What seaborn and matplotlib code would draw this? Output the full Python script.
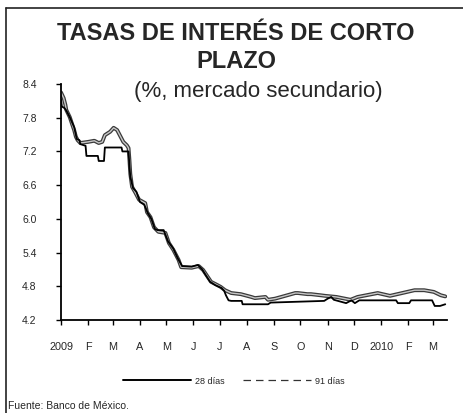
import matplotlib
matplotlib.use("Agg")
import matplotlib.pyplot as plt
import matplotlib.patheffects as pe
from matplotlib.lines import Line2D
import pandas as pd
import seaborn as sns

# Cetes 91 días (mercado secundario, %)
dates_91 = [
    "2009-01-01", "2009-01-04", "2009-01-06", "2009-01-07", "2009-01-11", "2009-01-14",
    "2009-01-16", "2009-01-18", "2009-01-20", "2009-01-23", "2009-02-01", "2009-02-08",
    "2009-02-13", "2009-02-17", "2009-02-20", "2009-02-26", "2009-03-02", "2009-03-06",
    "2009-03-09", "2009-03-13", "2009-03-17", "2009-03-19", "2009-03-20", "2009-03-21",
    "2009-03-23", "2009-03-27", "2009-03-31", "2009-04-07", "2009-04-09", "2009-04-13",
    "2009-04-17", "2009-04-22", "2009-04-30", "2009-05-04", "2009-05-09", "2009-05-15",
    "2009-05-18", "2009-05-30", "2009-06-07", "2009-06-12", "2009-06-18", "2009-06-21",
    "2009-06-26", "2009-07-02", "2009-07-07", "2009-07-14", "2009-07-25", "2009-08-06",
    "2009-08-10", "2009-08-22", "2009-08-25", "2009-09-02", "2009-09-09", "2009-09-25",
    "2009-09-28", "2009-10-09", "2009-10-13", "2009-10-24", "2009-10-29", "2009-11-11",
    "2009-11-27", "2009-12-05", "2009-12-28", "2010-01-11", "2010-01-25", "2010-02-08",
    "2010-02-19", "2010-03-02", "2010-03-10", "2010-03-15",
]
rate_91 = [
    8.25, 8.15, 8.03, 7.94, 7.81, 7.67,
    7.58, 7.46, 7.40, 7.35, 7.37, 7.39,
    7.35, 7.37, 7.49, 7.55, 7.62, 7.58,
    7.49, 7.37, 7.31, 7.26, 7.05, 6.80,
    6.57, 6.46, 6.34, 6.28, 6.12, 6.03,
    5.85, 5.77, 5.75, 5.57, 5.45, 5.27,
    5.14, 5.13, 5.16, 5.09, 4.95, 4.88,
    4.84, 4.79, 4.73, 4.68, 4.66, 4.61,
    4.59, 4.61, 4.56, 4.58, 4.61, 4.68,
    4.68, 4.66, 4.66, 4.64, 4.63, 4.61,
    4.56, 4.61, 4.68, 4.63, 4.68, 4.73,
    4.73, 4.70, 4.64, 4.62,
]

# Cetes 28 días (mercado secundario, %)
dates_28 = [
    "2009-01-01", "2009-01-02", "2009-01-05", "2009-01-07", "2009-01-11", "2009-01-16",
    "2009-01-18", "2009-01-19", "2009-01-22", "2009-01-23", "2009-01-29", "2009-01-30",
    "2009-02-12", "2009-02-13", "2009-02-19", "2009-02-20", "2009-03-11", "2009-03-12",
    "2009-03-19", "2009-03-20", "2009-03-21", "2009-03-24", "2009-03-28", "2009-04-01",
    "2009-04-06", "2009-04-10", "2009-04-14", "2009-04-18", "2009-04-21", "2009-04-28",
    "2009-05-03", "2009-05-09", "2009-05-14", "2009-05-19", "2009-05-30", "2009-06-06",
    "2009-06-11", "2009-06-15", "2009-06-20", "2009-06-26", "2009-07-03", "2009-07-06",
    "2009-07-08", "2009-07-11", "2009-07-14", "2009-07-26", "2009-07-27", "2009-08-25",
    "2009-08-28", "2009-10-28", "2009-11-01", "2009-11-05", "2009-11-08", "2009-11-22",
    "2009-11-28", "2009-12-02", "2009-12-07", "2010-01-18", "2010-01-20", "2010-02-02",
    "2010-02-04", "2010-02-28", "2010-03-03", "2010-03-09", "2010-03-15",
]
rate_28 = [
    8.12, 8.00, 7.97, 7.93, 7.81, 7.63,
    7.49, 7.42, 7.40, 7.33, 7.30, 7.12,
    7.12, 7.03, 7.03, 7.27, 7.27, 7.20,
    7.20, 6.95, 6.75, 6.55, 6.48, 6.30,
    6.25, 6.10, 6.00, 5.82, 5.80, 5.80,
    5.60, 5.47, 5.30, 5.16, 5.15, 5.18,
    5.10, 5.00, 4.88, 4.82, 4.77, 4.72,
    4.64, 4.55, 4.54, 4.54, 4.48, 4.48,
    4.51, 4.54, 4.58, 4.61, 4.56, 4.50,
    4.55, 4.50, 4.55, 4.55, 4.50, 4.50,
    4.55, 4.55, 4.45, 4.45, 4.48,
]

y_ticks = [4.2, 4.8, 5.4, 6.0, 6.6, 7.2, 7.8, 8.4]
month_labels = ["2009", "F", "M", "A", "M", "J", "J", "A", "S", "O", "N", "D", "2010", "F", "M"]

df91 = pd.DataFrame({"fecha": pd.to_datetime(dates_91), "tasa": rate_91})
df28 = pd.DataFrame({"fecha": pd.to_datetime(dates_28), "tasa": rate_28})

sns.set_style("white")
plt.rcParams["font.family"] = ["Liberation Sans", "DejaVu Sans"]

fig = plt.figure(figsize=(4.64, 4.13), dpi=100)
ax = fig.add_axes([61 / 464, 1 - 320 / 413, (447 - 61) / 464, (320 - 84) / 413])

# 91 días: trazo gris con borde oscuro
sns.lineplot(data=df91, x="fecha", y="tasa", ax=ax, color="#c8c8c8", lw=1.0,
             path_effects=[pe.Stroke(linewidth=2.8, foreground="#3a3a3a"), pe.Normal()])
# 28 días: línea negra
sns.lineplot(data=df28, x="fecha", y="tasa", ax=ax, color="black", lw=1.3)

ax.set_ylim(4.2, 8.4)
ax.set_yticks(y_ticks)
ax.set_yticklabels([f"{v:.1f}" for v in y_ticks], fontsize=7.5)
ax.set_xlim(pd.Timestamp("2009-01-01"), pd.Timestamp("2010-03-17"))
month_starts = pd.date_range("2009-01-01", "2010-03-01", freq="MS")
ax.set_xticks(month_starts)
ax.set_xticklabels(month_labels, fontsize=7.8)
ax.set_xlabel("")
ax.set_ylabel("")
ax.grid(False)
for side in ["top", "right"]:
    ax.spines[side].set_visible(False)
for side in ["left", "bottom"]:
    ax.spines[side].set_color("black")
    ax.spines[side].set_linewidth(1.3)
ax.tick_params(axis="both", direction="out", length=3.5, width=1, color="black",
               bottom=True, left=True)
ax.tick_params(axis="x", pad=12)
ax.tick_params(axis="y", pad=14)

# Título y subtítulo
fig.text(236 / 464, 1 - 34 / 413, "TASAS DE INTERÉS DE CORTO", ha="center", va="center",
         fontsize=17, fontweight="bold")
fig.text(236 / 464, 1 - 62 / 413, "PLAZO", ha="center", va="center",
         fontsize=17, fontweight="bold")
fig.text(258 / 464, 1 - 92 / 413, "(%, mercado secundario)", ha="center", va="center",
         fontsize=16)

# Leyenda
handles = [Line2D([], [], color="black", lw=1.4),
           Line2D([], [], color="#333333", lw=0.9, ls=(0, (6, 4)))]
fig.legend(handles, ["28 días", "91 días"], loc="center", ncol=2,
           bbox_to_anchor=(234 / 464, 1 - 381 / 413), frameon=False, fontsize=6.5,
           handlelength=7.5, handletextpad=0.5, columnspacing=2.0)

# Fuente
fig.text(8 / 464, 1 - 406 / 413, "Fuente: Banco de México.", ha="left", va="center", fontsize=7.5)

# Marco del recuadro
fig.add_artist(Line2D([6 / 464, 6 / 464], [0, 1 - 8 / 413], transform=fig.transFigure,
                      color="#222222", lw=1.2))
fig.add_artist(Line2D([6 / 464, 1], [1 - 8 / 413, 1 - 8 / 413], transform=fig.transFigure,
                      color="#222222", lw=1.2))

fig.savefig("out.png", dpi=100)
